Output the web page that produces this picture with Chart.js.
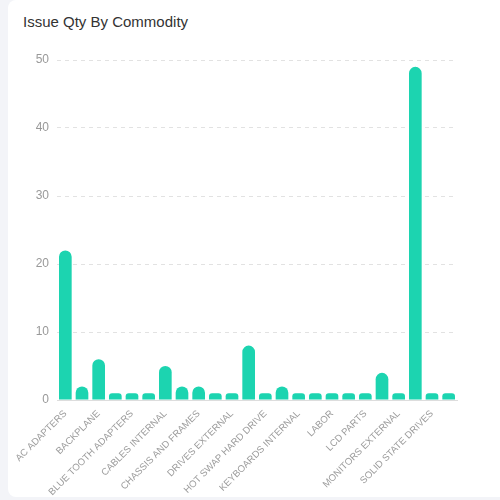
<!DOCTYPE html>
<html>
<head>
<meta charset="utf-8">
<script src="https://cdn.jsdelivr.net/npm/chart.js@4"></script>
<style>
  body { margin: 0; background: #f3f4f8; width: 500px; height: 500px; overflow: hidden; font-family: "Liberation Sans", Arial, sans-serif; }
  .card { position: absolute; left: 8px; top: 0; width: 520px; height: 497px; background: #fff; border-radius: 8px; }
  .title { position: absolute; left: 15px; top: 13px; font-size: 15px; color: #333; }
  .wrap { position: absolute; left: 0; top: 40px; width: 492px; height: 457px; }
</style>
</head>
<body>
<div class="card">
  <div class="title">Issue Qty By Commodity</div>
  <div class="wrap"><canvas id="myChart"></canvas></div>
</div>
<script>
// commodities, alphabetical (only every other one gets a label on the axis)
const commodities = [
  "AC ADAPTERS", "BACK COVERS", "BACKPLANE", "BATTERIES",
  "BLUE TOOTH ADAPTERS", "CABLES EXTERNAL", "CABLES INTERNAL", "CD/DVD DRIVES",
  "CHASSIS AND FRAMES", "DOCKING STATIONS", "DRIVES EXTERNAL", "FANS",
  "HOT SWAP HARD DRIVE", "KEYBOARDS EXTERNAL", "KEYBOARDS INTERNAL", "KITS",
  "LABOR", "LCD PANELS", "LCD PARTS", "MEMORY",
  "MONITORS EXTERNAL", "MOTHERBOARDS", "SOLID STATE DRIVES", "SPEAKERS"
];
const issueQty = [22, 2, 6, 1, 1, 1, 5, 2, 2, 1, 1, 8, 1, 2, 1, 1, 1, 1, 1, 4, 1, 49, 1, 1];
const yTicks = [0, 10, 20, 30, 40, 50];

const ctx = document.getElementById("myChart").getContext("2d");

const chart = new Chart(ctx, {
  type: "bar",
  data: {
    labels: commodities,
    datasets: [
      {
        label: "Issue Qty",
        data: issueQty,
        backgroundColor: "#1cd4b0",
        borderRadius: 7,
        borderSkipped: "bottom",
        barPercentage: 0.95,
        categoryPercentage: 0.8
      }
    ]
  },
  options: {
    responsive: true,
    maintainAspectRatio: false,
    animation: false,
    layout: { padding: { top: 20, right: 43, left: 0, bottom: 0 } },
    plugins: {
      legend: { display: false },
      tooltip: { enabled: false }
    },
    scales: {
      x: {
        grid: { display: false },
        border: { display: true, color: "#dddddd" },
        ticks: {
          autoSkip: false,
          maxRotation: 45,
          minRotation: 45,
          padding: 0,
          color: "#9c9c9c",
          font: { family: "Liberation Sans, Arial, sans-serif", size: 9.6 },
          callback: function(value, index) {
            return index % 2 === 0 ? this.getLabelForValue(value) : "";
          }
        },
        afterFit: function(scale) { scale.height = 97; }
      },
      y: {
        min: yTicks[0],
        max: yTicks[yTicks.length - 1],
        afterBuildTicks: function(scale) {
          scale.ticks = yTicks.map(v => ({ value: v }));
        },
        grid: { color: "#e2e2e2", drawTicks: false },
        border: { display: false, dash: [4, 4] },
        ticks: {
          padding: 8,
          color: "#999999",
          font: { family: "Liberation Sans, Arial, sans-serif", size: 12 }
        },
        afterFit: function(scale) { scale.width = 49; }
      }
    }
  }
});
</script>
</body>
</html>
